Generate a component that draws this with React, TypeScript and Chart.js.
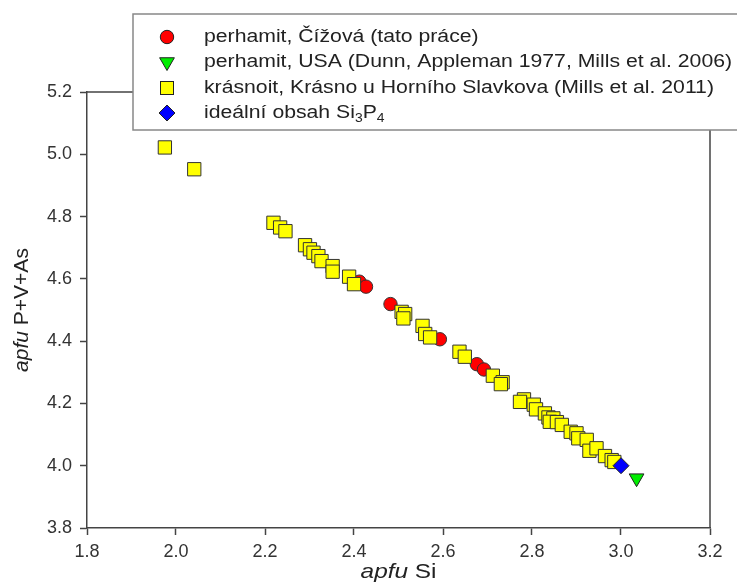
import React, { useEffect, useRef } from "react";
import { Chart, registerables } from "chart.js";

Chart.register(...registerables);

// perhamit, Čížová (tato práce)
const redX = [2.412, 2.427, 2.482, 2.593, 2.676, 2.692];
const redY = [4.591, 4.575, 4.519, 4.406, 4.326, 4.309];

// perhamit, USA
const greenX = [3.035];
const greenY = [3.96];

// krásnoit, Krásno u Horního Slavkova
const yellowX = [
  1.975, 2.041, 2.219, 2.234, 2.246, 2.29, 2.301, 2.309, 2.32, 2.327, 2.352, 2.352,
  2.389, 2.4, 2.507, 2.515, 2.511, 2.554, 2.56, 2.571, 2.637, 2.649, 2.712, 2.734,
  2.73, 2.782, 2.773, 2.804, 2.809, 2.829, 2.837, 2.848, 2.84, 2.856, 2.867, 2.887,
  2.9, 2.904, 2.923, 2.929, 2.945, 2.964, 2.979, 2.985,
];
const yellowY = [
  5.022, 4.952, 4.78, 4.765, 4.753, 4.708, 4.695, 4.684, 4.673, 4.657, 4.641, 4.623,
  4.607, 4.583, 4.494, 4.487, 4.473, 4.449, 4.423, 4.412, 4.366, 4.35, 4.289, 4.268,
  4.262, 4.213, 4.205, 4.196, 4.181, 4.168, 4.155, 4.152, 4.141, 4.14, 4.131, 4.109,
  4.104, 4.088, 4.083, 4.048, 4.056, 4.031, 4.018, 4.012,
];

// ideální obsah Si3P4
const blueX = [3.0];
const blueY = [4.0];

const xTicks = [1.8, 2.0, 2.2, 2.4, 2.6, 2.8, 3.0, 3.2];
const yTicks = [3.8, 4.0, 4.2, 4.4, 4.6, 4.8, 5.0, 5.2];

const legendLabels = [
  "perhamit, Čížová (tato práce)",
  "perhamit, USA (Dunn, Appleman 1977, Mills et al. 2006)",
  "krásnoit, Krásno u Horního Slavkova (Mills et al. 2011)",
  "ideální obsah Si",
];

const FONT = "'Liberation Sans', Arial, sans-serif";
const STRETCH = 1.16;

const toPts = (xs: number[], ys: number[]) => xs.map((x, i) => ({ x, y: ys[i] }));

const framePlugin = {
  id: "frame",
  beforeDatasetsDraw(chart: any) {
    const { ctx, chartArea } = chart;
    ctx.save();
    ctx.strokeStyle = "#444";
    ctx.lineWidth = 1.5;
    ctx.beginPath();
    ctx.moveTo(chartArea.left, chartArea.top);
    ctx.lineTo(chartArea.right, chartArea.top);
    ctx.lineTo(chartArea.right, chartArea.bottom);
    ctx.stroke();
    ctx.restore();
  },
};

const decorPlugin = {
  id: "decor",
  afterDraw(chart: any) {
    const { ctx, chartArea } = chart;
    ctx.save();
    // legend box
    ctx.fillStyle = "#fff";
    ctx.fillRect(133, 14, 620, 116);
    ctx.strokeStyle = "#888";
    ctx.lineWidth = 1.5;
    ctx.strokeRect(133, 14, 620, 116);

    const mx = 167;
    const rows = [37, 62, 88, 113];
    // red circle
    ctx.lineWidth = 1;
    ctx.strokeStyle = "#222";
    ctx.fillStyle = "#ff0000";
    ctx.beginPath();
    ctx.arc(mx, rows[0], 6.7, 0, Math.PI * 2);
    ctx.fill();
    ctx.stroke();
    // green triangle down
    ctx.fillStyle = "#00ee00";
    ctx.beginPath();
    const r = 8.5;
    ctx.moveTo(mx, rows[1] + r);
    ctx.lineTo(mx - r * 0.866, rows[1] - r / 2);
    ctx.lineTo(mx + r * 0.866, rows[1] - r / 2);
    ctx.closePath();
    ctx.fill();
    ctx.stroke();
    // yellow square
    ctx.fillStyle = "#ffff00";
    ctx.fillRect(mx - 6.5, rows[2] - 6.5, 13, 13);
    ctx.strokeRect(mx - 6.5, rows[2] - 6.5, 13, 13);
    // blue diamond
    ctx.fillStyle = "#0000ff";
    ctx.beginPath();
    ctx.moveTo(mx, rows[3] - 8);
    ctx.lineTo(mx + 8, rows[3]);
    ctx.lineTo(mx, rows[3] + 8);
    ctx.lineTo(mx - 8, rows[3]);
    ctx.closePath();
    ctx.fill();
    ctx.stroke();

    // legend texts (horizontally stretched like the reference)
    ctx.save();
    const tx = 204;
    ctx.translate(tx, 0);
    ctx.scale(STRETCH, 1);
    ctx.fillStyle = "#222";
    ctx.font = `18.3px ${FONT}`;
    ctx.textBaseline = "middle";
    ctx.textAlign = "left";
    legendLabels.forEach((t, i) => ctx.fillText(t, 0, rows[i]));
    let w = ctx.measureText(legendLabels[3]).width;
    ctx.font = `12px ${FONT}`;
    ctx.fillText("3", w, rows[3] + 6);
    w += ctx.measureText("3").width;
    ctx.font = `18.3px ${FONT}`;
    ctx.fillText("P", w, rows[3]);
    w += ctx.measureText("P").width;
    ctx.font = `12px ${FONT}`;
    ctx.fillText("4", w, rows[3] + 6);
    ctx.restore();

    // x axis title
    ctx.fillStyle = "#222";
    ctx.textBaseline = "middle";
    ctx.textAlign = "left";
    const it = `italic 21px ${FONT}`;
    const nt = `21px ${FONT}`;
    ctx.font = it;
    const w1 = ctx.measureText("apfu").width;
    ctx.font = nt;
    const w2 = ctx.measureText(" Si").width;
    const cx = (chartArea.left + chartArea.right) / 2;
    ctx.save();
    ctx.translate(cx, 572);
    ctx.scale(STRETCH, 1);
    let sx = -(w1 + w2) / 2;
    ctx.font = it;
    ctx.fillText("apfu", sx, 0);
    ctx.font = nt;
    ctx.fillText(" Si", sx + w1, 0);
    ctx.restore();

    // y axis title
    ctx.translate(22, (chartArea.top + chartArea.bottom) / 2);
    ctx.rotate(-Math.PI / 2);
    ctx.font = it;
    const v1 = ctx.measureText("apfu").width;
    ctx.font = nt;
    const v2 = ctx.measureText(" P+V+As").width;
    sx = -(v1 + v2) / 2;
    ctx.font = it;
    ctx.fillText("apfu", sx, 0);
    ctx.font = nt;
    ctx.fillText(" P+V+As", sx + v1, 0);
    ctx.restore();
  },
};

export default function App() {
  const ref = useRef<HTMLCanvasElement | null>(null);

  useEffect(() => {
    if (!ref.current) return;
    const tickFont = { family: FONT, size: 18 };
    const chart = new Chart(ref.current, {
      type: "scatter",
      data: {
        datasets: [
          {
            label: "ideální obsah Si3P4",
            data: toPts(blueX, blueY),
            pointStyle: "rectRot",
            pointRadius: 8,
            backgroundColor: "#0000ff",
            borderColor: "#222",
            borderWidth: 1,
            order: 0,
          },
          {
            label: "krásnoit",
            data: toPts(yellowX, yellowY),
            pointStyle: "rect",
            pointRadius: 9.4,
            backgroundColor: "#ffff00",
            borderColor: "#333",
            borderWidth: 1,
            order: 1,
          },
          {
            label: "perhamit, USA",
            data: toPts(greenX, greenY),
            pointStyle: "triangle",
            pointRotation: 180,
            pointRadius: 8.5,
            backgroundColor: "#00ee00",
            borderColor: "#222",
            borderWidth: 1,
            order: 2,
          },
          {
            label: "perhamit, Čížová",
            data: toPts(redX, redY),
            pointStyle: "circle",
            pointRadius: 6.7,
            backgroundColor: "#ff0000",
            borderColor: "#333",
            borderWidth: 1,
            order: 3,
          },
        ],
      },
      options: {
        responsive: false,
        animation: false,
        devicePixelRatio: 1,
        layout: { padding: { top: 92, right: 27, left: 0, bottom: 0 } },
        plugins: { legend: { display: false }, tooltip: { enabled: false } },
        scales: {
          x: {
            type: "linear",
            min: 1.8,
            max: 3.2,
            afterBuildTicks: (axis: any) => {
              axis.ticks = xTicks.map((v) => ({ value: v }));
            },
            afterFit: (axis: any) => {
              axis.height = 55;
            },
            ticks: {
              color: "#333",
              font: tickFont,
              padding: 6,
              maxRotation: 0,
              callback: (v: any) => Number(v).toFixed(1),
            },
            grid: {
              drawOnChartArea: false,
              drawTicks: true,
              tickLength: 7,
              tickColor: "#444",
              tickWidth: 1.5,
            },
            border: { color: "#444", width: 1.5 },
          },
          y: {
            type: "linear",
            min: 3.8,
            max: 5.2,
            afterBuildTicks: (axis: any) => {
              axis.ticks = yTicks.map((v) => ({ value: v }));
            },
            afterFit: (axis: any) => {
              axis.width = 87;
            },
            ticks: {
              color: "#333",
              font: tickFont,
              padding: 8,
              callback: (v: any) => Number(v).toFixed(1),
            },
            grid: {
              drawOnChartArea: false,
              drawTicks: true,
              tickLength: 7,
              tickColor: "#444",
              tickWidth: 1.5,
            },
            border: { color: "#444", width: 1.5 },
          },
        },
      },
      plugins: [framePlugin, decorPlugin],
    } as any);
    return () => chart.destroy();
  }, []);

  return (
    <div style={{ position: "absolute", left: 0, top: 0, width: 737, height: 583, background: "#fff" }}>
      <canvas ref={ref} width={737} height={583} style={{ display: "block", width: 737, height: 583 }} />
    </div>
  );
}
